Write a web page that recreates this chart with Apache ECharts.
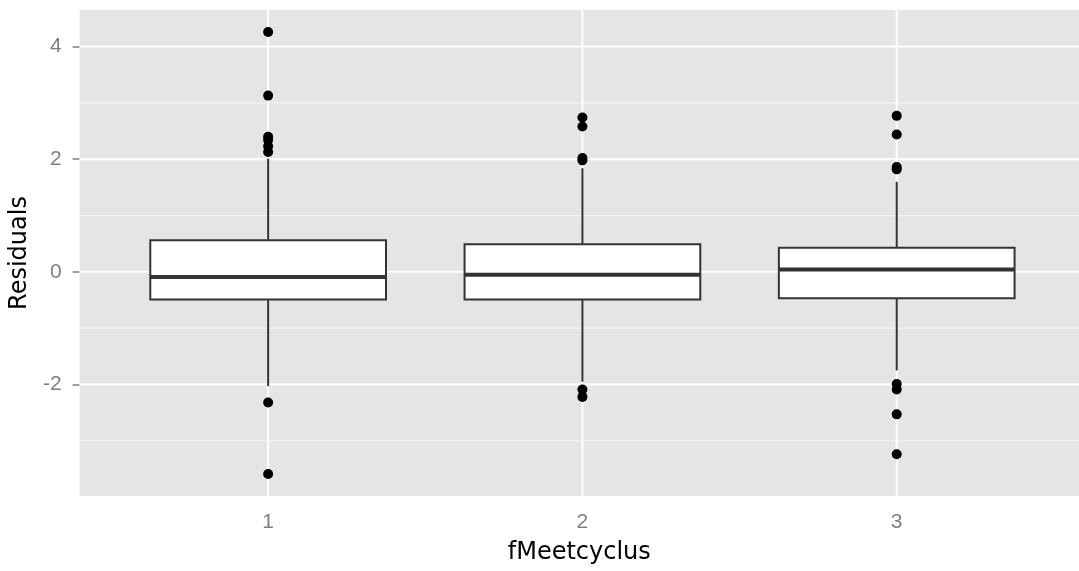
<!DOCTYPE html>
<html>
<head>
<meta charset="utf-8">
<script src="https://cdn.jsdelivr.net/npm/echarts@6.0.0/dist/echarts.min.js"></script>
<style>
  html, body { margin: 0; padding: 0; background: #ffffff; }
  #chart { width: 1079px; height: 571px; }
</style>
</head>
<body>
<div id="chart"></div>
<script>
// Groups on the x axis
const categories = ['1', '2', '3'];

// Five-number summaries per group: [lower whisker, Q1, median, Q3, upper whisker]
const boxGroup1 = [-2.03, -0.49, -0.09, 0.56, 2.01];
const boxGroup2 = [-1.95, -0.49, -0.05, 0.49, 1.84];
const boxGroup3 = [-1.75, -0.47, 0.04, 0.43, 1.60];

// Points beyond the whiskers
const outliers1 = [4.26, 3.13, 2.40, 2.34, 2.23, 2.13, -2.32, -3.59];
const outliers2 = [2.74, 2.58, 2.02, 1.98, -2.09, -2.22];
const outliers3 = [2.77, 2.44, 1.86, 1.82, -1.99, -2.09, -2.53, -3.24];

// Axis ticks and grid lines
const yTicks = [-2, 0, 2, 4];
const yMinorTicks = [-3, -1, 1, 3];
const xTicks = [1, 2, 3];

const boxes = [boxGroup1, boxGroup2, boxGroup3];
const outlierSets = [outliers1, outliers2, outliers3];

const X_MIN = 0.4, X_MAX = 3.58;
const Y_MIN = -3.98, Y_MAX = 4.65;

const boxData = boxes.map((s, i) => [xTicks[i]].concat(s));
const pointData = [];
outlierSets.forEach((set, i) => set.forEach(v => pointData.push([xTicks[i], v])));

const hGridData = yTicks.map(v => [v, 1]).concat(yMinorTicks.map(v => [v, 0]));
const vGridData = xTicks.map(v => [v]);

const GREY_TEXT = '#7F7F7F';
const EDGE = '#333333';

const chart = echarts.init(document.getElementById('chart'), null, { renderer: 'canvas' });

chart.setOption({
  animation: false,
  backgroundColor: '#ffffff',
  grid: {
    left: 79, right: 0, top: 10, bottom: 75,
    show: true, backgroundColor: '#E5E5E5', borderWidth: 0
  },
  xAxis: {
    type: 'value',
    min: X_MIN, max: X_MAX,
    name: 'fMeetcyclus',
    nameLocation: 'middle',
    nameGap: 45,
    nameTextStyle: { color: '#000000', fontSize: 24, fontFamily: 'DejaVu Sans' },
    axisLine: { show: false },
    splitLine: { show: false },
    axisTick: { show: true, customValues: xTicks, length: 7, lineStyle: { color: GREY_TEXT, width: 1.5 } },
    axisLabel: {
      customValues: xTicks,
      formatter: v => categories[Math.round(v) - 1],
      color: GREY_TEXT, fontSize: 21, fontFamily: 'Liberation Sans', margin: 16
    }
  },
  yAxis: {
    type: 'value',
    min: Y_MIN, max: Y_MAX,
    name: 'Residuals',
    nameLocation: 'middle',
    nameGap: 42,
    nameTextStyle: { color: '#000000', fontSize: 24, fontFamily: 'DejaVu Sans' },
    axisLine: { show: false },
    splitLine: { show: false },
    axisTick: { show: true, customValues: yTicks, length: 7, lineStyle: { color: GREY_TEXT, width: 1.5 } },
    axisLabel: {
      customValues: yTicks,
      color: GREY_TEXT, fontSize: 21, fontFamily: 'Liberation Sans', margin: 18
    }
  },
  series: [
    {
      // horizontal grid lines (major white, minor light grey)
      type: 'custom',
      silent: true,
      z: 1,
      data: hGridData,
      encode: { y: 0 },
      renderItem(params, api) {
        const cs = params.coordSys;
        const y = api.coord([X_MIN, api.value(0)])[1];
        const major = api.value(1) === 1;
        return {
          type: 'line',
          shape: { x1: cs.x, y1: y, x2: cs.x + cs.width, y2: y },
          style: { stroke: major ? '#FFFFFF' : '#F2F2F2', lineWidth: major ? 2 : 1.2 }
        };
      }
    },
    {
      // vertical grid lines at each group
      type: 'custom',
      silent: true,
      z: 1,
      data: vGridData,
      encode: { x: 0 },
      renderItem(params, api) {
        const cs = params.coordSys;
        const x = api.coord([api.value(0), Y_MIN])[0];
        return {
          type: 'line',
          shape: { x1: x, y1: cs.y, x2: x, y2: cs.y + cs.height },
          style: { stroke: '#FFFFFF', lineWidth: 2 }
        };
      }
    },
    {
      // box and whiskers
      type: 'custom',
      z: 2,
      data: boxData,
      encode: { x: 0, y: [1, 2, 3, 4, 5] },
      renderItem(params, api) {
        const x = api.value(0);
        const lo = api.coord([x, api.value(1)]);
        const q1 = api.coord([x, api.value(2)]);
        const med = api.coord([x, api.value(3)]);
        const q3 = api.coord([x, api.value(4)]);
        const hi = api.coord([x, api.value(5)]);
        const half = api.size([0.75, 0])[0] / 2;
        const cx = med[0];
        return {
          type: 'group',
          children: [
            { type: 'line', shape: { x1: cx, y1: hi[1], x2: cx, y2: q3[1] }, style: { stroke: EDGE, lineWidth: 2 } },
            { type: 'line', shape: { x1: cx, y1: q1[1], x2: cx, y2: lo[1] }, style: { stroke: EDGE, lineWidth: 2 } },
            { type: 'rect', shape: { x: cx - half, y: q3[1], width: 2 * half, height: q1[1] - q3[1] },
              style: { fill: '#FFFFFF', stroke: EDGE, lineWidth: 2 } },
            { type: 'line', shape: { x1: cx - half, y1: med[1], x2: cx + half, y2: med[1] },
              style: { stroke: EDGE, lineWidth: 4 } }
          ]
        };
      }
    },
    {
      // outlying observations
      type: 'scatter',
      z: 3,
      data: pointData,
      symbol: 'circle',
      symbolSize: 10,
      itemStyle: { color: '#000000', opacity: 1 },
      silent: true
    }
  ]
});
</script>
</body>
</html>
